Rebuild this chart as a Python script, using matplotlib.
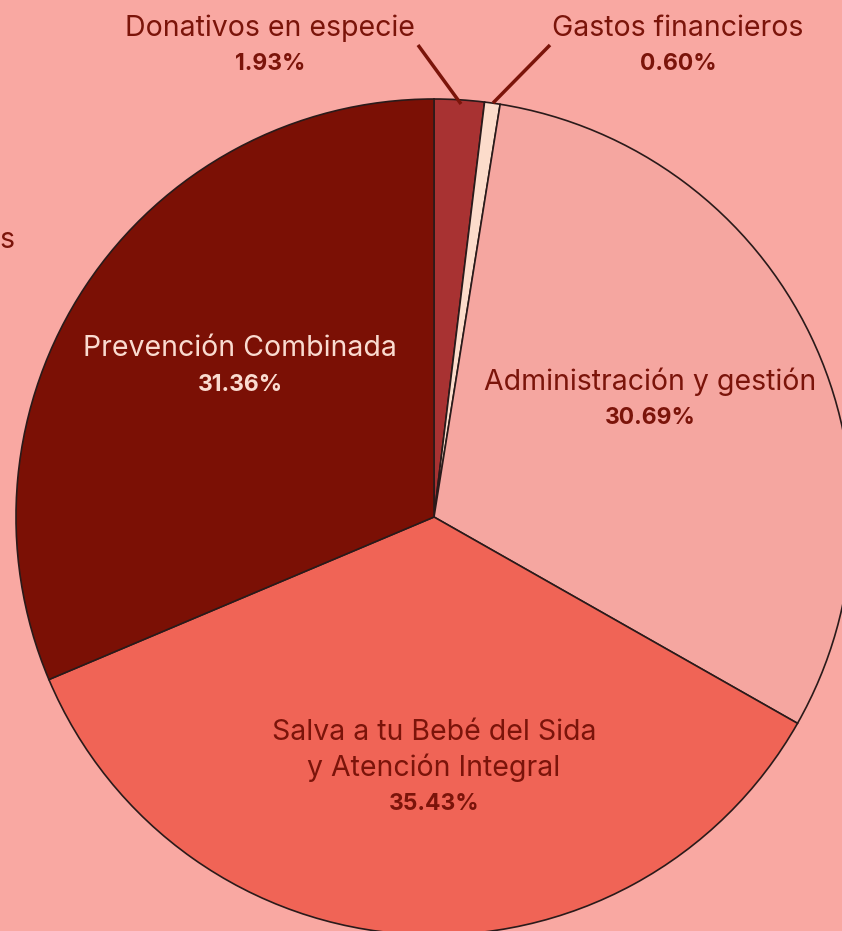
import matplotlib
matplotlib.use("Agg")
import matplotlib.pyplot as plt

categories = ["Donativos en especie", "Gastos financieros", "Administración y gestión",
              "Salva a tu Bebé del Sida\ny Atención Integral", "Prevención Combinada"]
values = [1.93, 0.60, 30.69, 35.43, 31.36]
colors = ["#A83232", "#FCDCCB", "#F5A6A0", "#F06456", "#7B1005"]

BG = "#F9A8A2"
DARK = "#7B140A"
LIGHT = "#FADBD0"

W, H = 842, 931
fig = plt.figure(figsize=(W / 100, H / 100), dpi=100, facecolor=BG)
ax = fig.add_axes([0, 0, 1, 1])
ax.set_facecolor(BG)

cx, cy, r = 434, H - 517, 418
wedges, _ = ax.pie(values, colors=colors, startangle=90, counterclock=False,
                   center=(cx, cy), radius=r, frame=True,
                   wedgeprops=dict(edgecolor="#2a1a1a", linewidth=1.2))
ax.set_xlim(0, W)
ax.set_ylim(0, H)
ax.set_aspect("equal")
ax.axis("off")

FONT = ["Inter", "DejaVu Sans"]
FS = 20.5
FSP = 16.5

def label(x, y, name, pct, color, gap=36):
    lines = name.split("\n")
    yy = H - y
    for ln in lines:
        ax.text(x, yy, ln, ha="center", va="center", fontsize=FS, color=color,
                family=FONT, fontweight="normal")
        yy -= gap
    ax.text(x, yy, f"{pct:.2f}%", ha="center", va="center", fontsize=FSP,
            color=color, family=FONT, fontweight="bold")

label(270, 28, categories[0], values[0], DARK)
label(678, 28, categories[1], values[1], DARK)
label(650, 382, categories[2], values[2], DARK)
label(434, 732, categories[3], values[3], DARK)
label(240, 349, categories[4], values[4], LIGHT)

ax.plot([418, 461], [H - 45, H - 104], color=DARK, lw=2.5, solid_capstyle="butt")
ax.plot([550, 493], [H - 45, H - 103], color=DARK, lw=2.5, solid_capstyle="butt")

ax.text(7, H - 241, "s", ha="center", va="center", fontsize=FS, color=DARK,
        family=FONT, fontweight="normal")

fig.savefig("out.png", dpi=100, facecolor=BG)
